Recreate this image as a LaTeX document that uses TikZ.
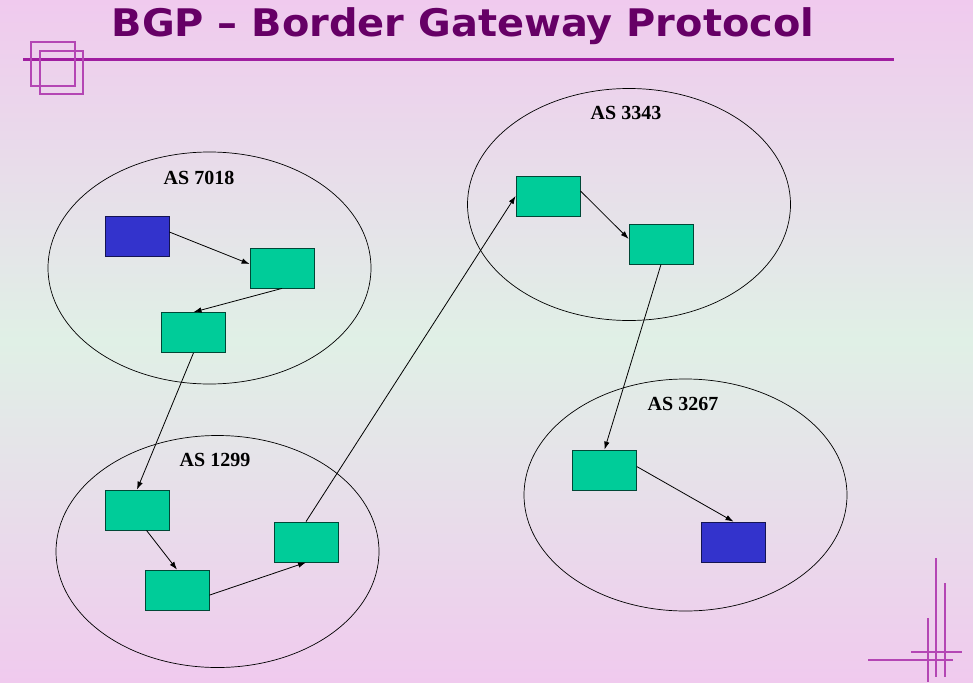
\documentclass[tikz,border=0pt]{standalone}
\usepackage{fontspec}
\setmainfont{Liberation Serif}
\newfontfamily\titlefont{DejaVu Sans}[FakeStretch=1.05]
\usetikzlibrary{shapes.geometric,arrows.meta}
\definecolor{fondorosa}{RGB}{240,202,238}
\definecolor{fondoverde}{RGB}{224,240,230}
\definecolor{tituloc}{RGB}{102,0,102}
\definecolor{lineac}{RGB}{160,30,160}
\definecolor{decoc}{RGB}{180,70,180}
\definecolor{verde}{RGB}{0,204,153}
\definecolor{azul}{RGB}{51,51,204}
\begin{document}
\begin{tikzpicture}[x=1pt,y=-1pt,
  router/.style={draw=black!65!verde,fill=verde,line width=0.8pt,minimum width=64pt,minimum height=40pt,inner sep=0pt},
  host/.style={router,draw=black!60!azul,fill=azul},
  area/.style={draw,ellipse,line width=0.7pt,minimum width=323pt,minimum height=232pt,inner sep=0pt},
  etiqueta/.style={font=\bfseries\fontsize{20}{24}\selectfont,anchor=base},
  flecha/.style={-{Latex[length=8pt,width=5.5pt]},line width=0.8pt}]
% Fondo
\useasboundingbox (0,0) rectangle (973,682);
\shade[top color=fondorosa,bottom color=fondorosa,middle color=fondoverde] (0,0) rectangle (973,682);

% Titulo y linea
\node[anchor=base,text=tituloc,font=\titlefont\bfseries\fontsize{38}{42}\selectfont] (titulo) at (463,37) {BGP – Border Gateway Protocol};
\draw[lineac,line width=3pt] (23,60) -- (894,60);

% Adornos
\draw[decoc,line width=1.2pt] (31,42) rectangle (75,86);
\draw[decoc,line width=1.2pt] (40,51) rectangle (83,94);
\draw[decoc,line width=1.5pt] (936,558) -- (936,677);
\draw[decoc,line width=1.5pt] (945,583) -- (945,677);
\draw[decoc,line width=1.5pt] (928,618) -- (928,682);
\draw[decoc,line width=1.5pt] (911,652) -- (962,652);
\draw[decoc,line width=1.5pt] (868,660) -- (953,660);

% Sistemas autonomos
\node[area] (as7018) at (209.5,268) {};
\node[area] (as1299) at (217.5,551.5) {};
\node[area] (as3343) at (629,204.5) {};
\node[area] (as3267) at (685.5,495) {};
\node[etiqueta] (lbl7018) at (199,184) {AS 7018};
\node[etiqueta] (lbl1299) at (215,466) {AS 1299};
\node[etiqueta] (lbl3343) at (626,120) {AS 3343};
\node[etiqueta] (lbl3267) at (683,410.5) {AS 3267};

% Routers
\node[host] (origen) at (137,236) {};
\node[router] (r1) at (282,268) {};
\node[router] (r2) at (193.5,332.5) {};
\node[router] (r3) at (137,510) {};
\node[router] (r4) at (177,590) {};
\node[router] (r5) at (306,542) {};
\node[router] (r6) at (548,196) {};
\node[router] (r7) at (661,244) {};
\node[router] (r8) at (604.5,470) {};
\node[host] (destino) at (733.5,542) {};

% Camino
\draw[flecha] (origen.7) -- (r1.173);
\draw[flecha] (r1.south) -- (r2.north);
\draw[flecha] (r2.south) -- (r3.north);
\draw[flecha] (r3.-65) -- (r4.north);
\draw[flecha] (r4.-9) -- (r5.south);
\draw[flecha] (r5.north) -- (r6.west);
\draw[flecha] (r6.9) -- (r7.171);
\draw[flecha] (r7.south) -- (r8.north);
\draw[flecha] (r8.6) -- (destino.north);

\end{tikzpicture}
\end{document}
